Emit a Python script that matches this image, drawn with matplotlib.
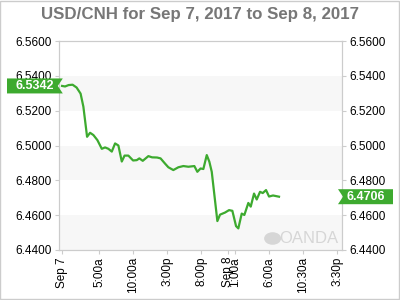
import matplotlib
matplotlib.use("Agg")
import matplotlib.pyplot as plt
from matplotlib.patches import Polygon, Circle, Rectangle

plt.rcParams["font.family"] = ["Liberation Sans", "DejaVu Sans"]

# position along the x axis (tick-slot units) and USD/CNH price
x_pos = [-0.097, -0.009, 0.094, 0.212, 0.329, 0.447, 0.529, 0.638, 0.726, 0.824,
         0.941, 1.071, 1.168, 1.265, 1.365, 1.462, 1.559, 1.659, 1.741, 1.853,
         1.991, 2.100, 2.176, 2.276, 2.441, 2.550, 2.697, 2.800, 2.932, 3.029,
         3.176, 3.324, 3.471, 3.618, 3.794, 3.882, 3.976, 4.059, 4.159, 4.235,
         4.306, 4.471, 4.550, 4.697, 4.815, 4.912, 5.021, 5.088, 5.188, 5.265,
         5.382, 5.453, 5.550, 5.629, 5.726, 5.806, 5.903, 5.991, 6.109, 6.285]
price = [6.5342, 6.5339, 6.5347, 6.5349, 6.5333, 6.5298, 6.5223, 6.5050, 6.5073, 6.5060,
         6.5031, 6.4981, 6.4989, 6.4981, 6.4965, 6.5012, 6.5000, 6.4908, 6.4942, 6.4942,
         6.4914, 6.4916, 6.4926, 6.4912, 6.4939, 6.4932, 6.4931, 6.4926, 6.4896, 6.4875,
         6.4859, 6.4875, 6.4882, 6.4878, 6.4882, 6.4849, 6.4868, 6.4865, 6.4945, 6.4907,
         6.4849, 6.4566, 6.4603, 6.4615, 6.4629, 6.4625, 6.4537, 6.4524, 6.4609, 6.4601,
         6.4670, 6.4649, 6.4724, 6.4690, 6.4734, 6.4727, 6.4744, 6.4707, 6.4713, 6.4706]

x_tick_pos = [-0.106, 1, 2, 3, 4, 4.776, 4.99, 6, 7, 8]
x_tick_labels = ["Sep 7", "5:00a", "10:00a", "3:00p", "8:00p", "Sep 8", "1:00a",
                 "6:00a", "10:30a", "3:30p"]
y_ticks = [6.44, 6.46, 6.48, 6.50, 6.52, 6.54, 6.56]
open_label = "6.5342"
last_label = "6.4706"

GREEN = "#3daa2f"
GRID = "#cccccc"

fig = plt.figure(figsize=(4, 3), dpi=100)
ax = fig.add_axes([0.147, 0.1667, 0.708, 0.6966])
ax.set_xlim(-0.194, 8.138)
ax.set_ylim(6.44, 6.56)

# alternating bands
for lo in (6.44, 6.48, 6.52):
    ax.axhspan(lo, lo + 0.02, color="#f7f7f7", zorder=0, lw=0)

ax.plot(x_pos, price, color=GREEN, lw=1.6, zorder=3)

ax.set_xticks(x_tick_pos)
ax.set_xticklabels(x_tick_labels, rotation=90, fontsize=8.5)
ax.set_yticks(y_ticks)
ax.set_yticklabels([f"{v:.4f}" for v in y_ticks], fontsize=8.5)
ax.tick_params(axis="both", colors=GRID, labelcolor="black", length=3, width=0.8, pad=2)
for s in ax.spines.values():
    s.set_color(GRID)
    s.set_linewidth(0.8)

ax2 = ax.twinx()
ax2.set_ylim(ax.get_ylim())
ax2.set_yticks(y_ticks)
ax2.set_yticklabels([f"{v:.4f}" for v in y_ticks], fontsize=8.5)
ax2.tick_params(axis="y", colors=GRID, labelcolor="black", length=3, width=0.8, pad=2)
for s in ax2.spines.values():
    s.set_color(GRID)
    s.set_linewidth(0.8)

fig.suptitle("USD/CNH for Sep 7, 2017 to Sep 8, 2017", x=0.5, y=0.975,
             fontsize=12.2, fontweight="bold", color="#777777")

# price flags, drawn in pixel space
inv = fig.transFigure.inverted()


def flag(y_val, x_tip, x_end, text):
    _, yp = ax.transData.transform((0, y_val))
    h = 7.5
    step = 5 if x_end < x_tip else -5
    pts = [(x_tip, yp), (x_tip + step, yp + h), (x_end, yp + h),
           (x_end, yp - h), (x_tip + step, yp - h)]
    pts = [inv.transform(p) for p in pts]
    fig.add_artist(Polygon(pts, closed=True, transform=fig.transFigure,
                           facecolor=GREEN, edgecolor="none", zorder=5))
    xc = inv.transform(((x_tip + step + x_end) / 2, yp))
    fig.text(xc[0], xc[1], text, color="white", fontsize=9, fontweight="bold",
             ha="center", va="center", zorder=6)


left_px = ax.transAxes.transform((0, 0))[0]
right_px = ax.transAxes.transform((1, 0))[0]
flag(price[0], left_px - 1, 7, open_label)
flag(price[-1], right_px + 1, 393, last_label)

# watermark
ax.add_patch(Circle((0.755, 0.055), 0.03, transform=ax.transAxes,
                    facecolor="#d6d6d6", edgecolor="none", zorder=1))
ax.text(0.778, 0.055, "OANDA", transform=ax.transAxes, fontsize=12,
        color="#d6d6d6", va="center", ha="left", zorder=1)

# outer frame
fig.add_artist(Rectangle((0.001, 0.002), 0.997, 0.996, transform=fig.transFigure,
                         fill=False, edgecolor="#cccccc", lw=1))

fig.savefig("out.png", dpi=100)
